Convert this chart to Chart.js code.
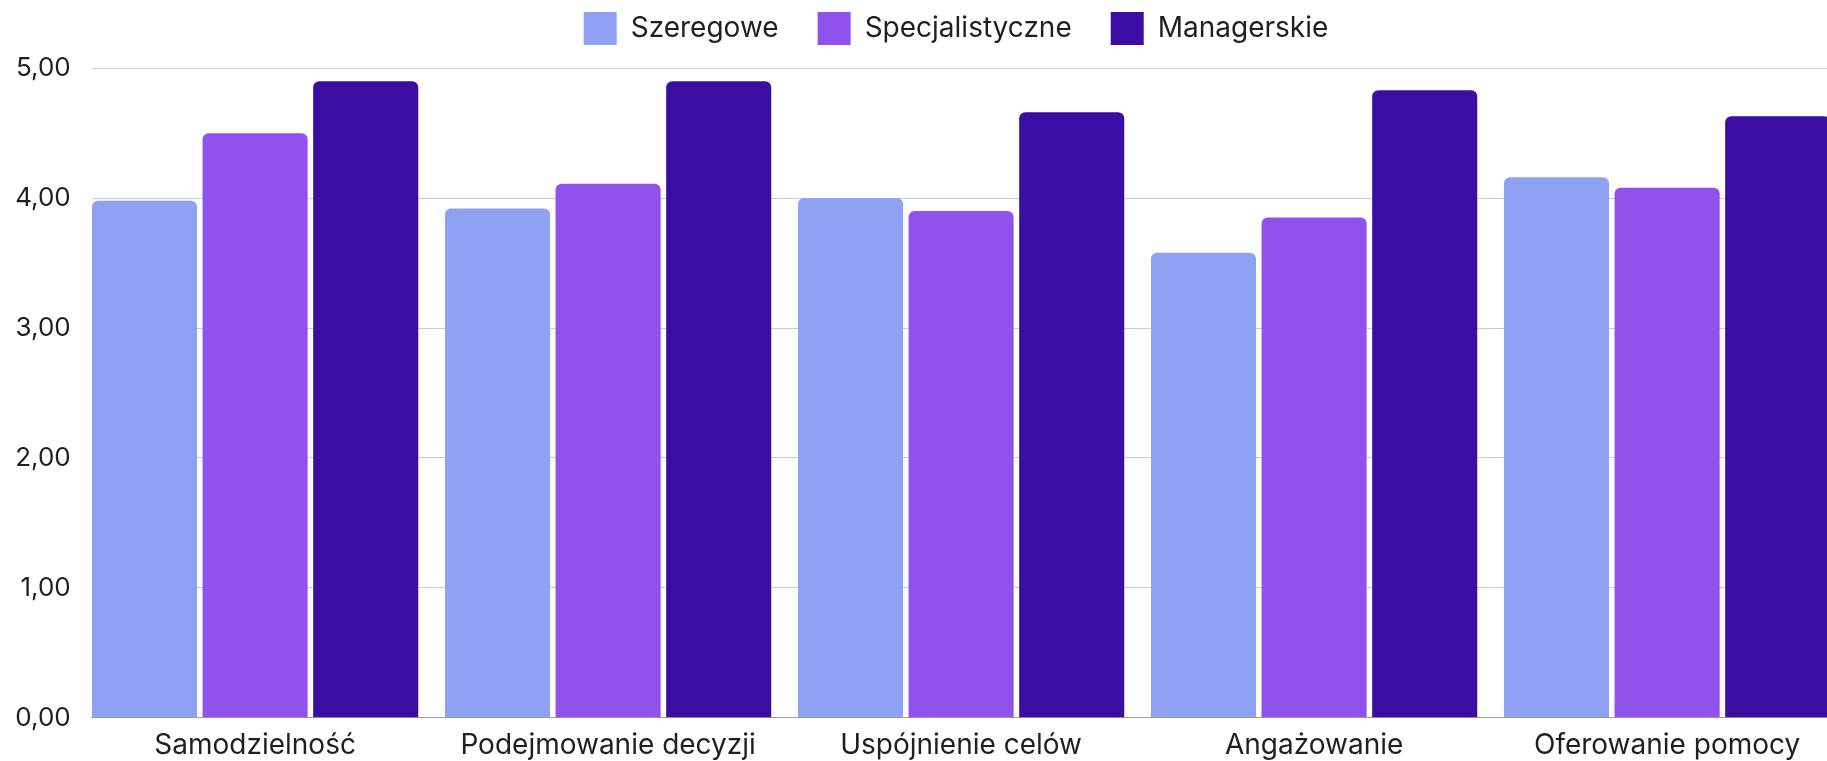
<!DOCTYPE html>
<html lang="pl">
<head>
<meta charset="utf-8">
<title>Ocena kompetencji według stanowisk</title>
<script src="https://cdn.jsdelivr.net/npm/chart.js@4.4.1/dist/chart.umd.min.js"></script>
<style>
  html, body { margin: 0; padding: 0; background: #ffffff; overflow: hidden; }
  #wrap { position: relative; width: 1912px; height: 761px; }
</style>
</head>
<body>
<div id="wrap"><canvas id="chart"></canvas></div>
<script>
// Categories along the x axis
const categories = ['Samodzielność', 'Podejmowanie decyzji', 'Uspójnienie celów', 'Angażowanie', 'Oferowanie pomocy'];

// Series names and average scores per category
const seriesNames = ['Szeregowe', 'Specjalistyczne', 'Managerskie'];
const szeregowe = [3.98, 3.92, 4.00, 3.58, 4.16];
const specjalistyczne = [4.50, 4.11, 3.90, 3.85, 4.08];
const managerskie = [4.90, 4.90, 4.66, 4.83, 4.63];

// Value axis ticks
const yTicks = [0, 1, 2, 3, 4, 5];

// Colours
const seriesColors = ['#8FA1F2', '#9151EC', '#3C0DA2'];

// Layout constants (pixels)
const PLOT_LEFT = 91.7;        // left edge of the plotting area
const CATEGORY_STEP = 353.0;   // distance between category centres
const FIRST_CENTER = 255.1;    // centre of the first category
const CANVAS_WIDTH = 1912;
const LEGEND_BAND = 95.2;      // height reserved for the legend row

const xMin = -(FIRST_CENTER - PLOT_LEFT) / CATEGORY_STEP;
const xMax = xMin + (CANVAS_WIDTH - PLOT_LEFT) / CATEGORY_STEP;

const toPoints = (values) => values.map((v, i) => ({ x: i, y: v }));
const seriesValues = [szeregowe, specjalistyczne, managerskie];

const datasets = seriesNames.map((name, k) => ({
  label: name,
  data: toPoints(seriesValues[k]),
  backgroundColor: seriesColors[k],
  borderWidth: 0,
  borderRadius: 6,
  borderSkipped: 'start',
  categoryPercentage: 0.94,
  barPercentage: 0.95
}));

// Gives the legend row a fixed height so the plot starts below it
const legendBand = {
  id: 'legendBand',
  beforeLayout(chart) {
    const legend = chart.legend;
    if (!legend || legend._bandPatched) return;
    const baseFit = legend.fit;
    legend.fit = function () {
      baseFit.call(this);
      this.height = LEGEND_BAND;
    };
    legend._bandPatched = true;
  }
};

function build() {
  Chart.defaults.font.family = "Inter, 'Open Sans', sans-serif";
  Chart.defaults.color = '#1f1f1f';

  new Chart(document.getElementById('chart'), {
    type: 'bar',
    data: { datasets },
    options: {
      responsive: true,
      maintainAspectRatio: false,
      animation: false,
      layout: { padding: { top: -27, left: 0, right: 0, bottom: 0 } },
      plugins: {
        legend: {
          position: 'top',
          align: 'center',
          labels: {
            boxWidth: 33,
            boxHeight: 33,
            padding: 39,
            color: '#1f1f1f',
            font: { size: 28 }
          }
        },
        tooltip: { enabled: false }
      },
      scales: {
        x: {
          type: 'linear',
          position: 'bottom',
          offset: false,
          min: xMin,
          max: xMax,
          grid: { display: false, drawTicks: false, offset: false },
          border: { display: true, color: '#9e9e9e', width: 1 },
          afterBuildTicks: (scale) => {
            scale.ticks = categories.map((_, i) => ({ value: i }));
          },
          afterFit: (scale) => { scale.height = 761 - 717.7; },
          ticks: {
            autoSkip: false,
            maxRotation: 0,
            minRotation: 0,
            padding: 11,
            color: '#1f1f1f',
            font: { size: 28 },
            callback: (value) => categories[value]
          }
        },
        y: {
          min: yTicks[0],
          max: yTicks[yTicks.length - 1],
          afterBuildTicks: (scale) => {
            scale.ticks = yTicks.map((v) => ({ value: v }));
          },
          afterFit: (scale) => { scale.width = PLOT_LEFT; },
          grid: { color: '#cccccc', lineWidth: 1, drawTicks: false },
          border: { display: false },
          ticks: {
            padding: 21,
            color: '#1f1f1f',
            font: { size: 26 },
            callback: (value) => Number(value).toFixed(2).replace('.', ',')
          }
        }
      }
    },
    plugins: [legendBand]
  });
}

if (document.fonts && document.fonts.load) {
  Promise.all([
    document.fonts.load('26px Inter'),
    document.fonts.load('28px Inter')
  ]).then(build, build);
} else {
  build();
}
</script>
</body>
</html>
